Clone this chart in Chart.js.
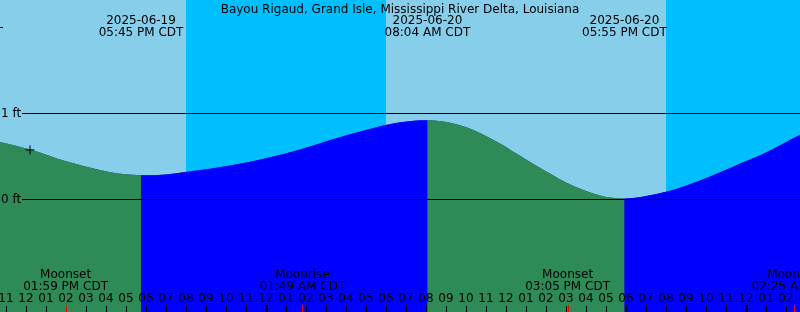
<!DOCTYPE html>
<html>
<head>
<meta charset="utf-8">
<script src="https://cdn.jsdelivr.net/npm/chart.js@4"></script>
<style>
  body { margin: 0; overflow: hidden; background: #fff; }
  canvas { display: block; }
</style>
</head>
<body>
<canvas id="tide" width="800" height="312"></canvas>
<script>
// hours counted from 2025-06-19 00:00 CDT
const title = "Bayou Rigaud, Grand Isle, Mississippi River Delta, Louisiana";

const tideHours = [10.7, 12.2, 14.05, 15.7, 16.6, 17.35, 17.75, 19.0, 20.05, 22.35, 24.05, 25.7, 27.35, 29.05, 30.7, 31.4, 32.07,
  33.0, 34.05, 35.7, 36.5, 37.35, 38.2, 39.05, 40.7, 41.2, 41.92, 43.0, 44.05, 45.7, 47.35, 49.05, 50.7];
const tideFeet = [0.666, 0.58, 0.44, 0.34, 0.30, 0.285, 0.28, 0.29, 0.32, 0.40, 0.48, 0.58, 0.70, 0.81, 0.895, 0.915, 0.92,
  0.90, 0.835, 0.65, 0.535, 0.415, 0.30, 0.19, 0.045, 0.022, 0.01, 0.04, 0.09, 0.22, 0.38, 0.55, 0.75];

const nowHour = 12.2;
const nowFeet = 0.575;

const extremeHours = [17.75, 32.07, 41.92];
const extremeDates = ["2025-06-19", "2025-06-20", "2025-06-20"];
const extremeTimes = ["05:45 PM CDT", "08:04 AM CDT", "05:55 PM CDT"];

const moonHours = [13.98, 25.82, 39.08, 50.42];
const moonNames = ["Moonset", "Moonrise", "Moonset", "Moonrise"];
const moonTimes = ["01:59 PM CDT", "01:49 AM CDT", "03:05 PM CDT", "02:25 AM CDT"];

const nightStarts = [20.0, 44.0];
const nightEnds = [30.0, 54.0];
const midnights = [24, 48];

const firstHour = 11;
const hourLabels = ["11", "12", "01", "02", "03", "04", "05", "06", "07", "08", "09", "10",
  "11", "12", "01", "02", "03", "04", "05", "06", "07", "08", "09", "10",
  "11", "12", "01", "02", "03", "04", "05", "06", "07", "08", "09", "10",
  "11", "12", "01", "02", "03"];
const footLabels = [0, 1, 2];

const FONT = "12px 'DejaVu Sans', sans-serif";
const DAY = "#87CEEB", NIGHT = "#00BFFF", FALL = "#2E8B57", RISE = "#0000FF";

const tidePoints = tideHours.map((h, i) => ({ x: h, y: tideFeet[i] }));

const tidePlugin = {
  id: "tideDecor",
  beforeDatasetsDraw(chart) {
    const { ctx, chartArea: a, scales: { x } } = chart;
    ctx.save();
    ctx.fillStyle = DAY;
    ctx.fillRect(a.left, a.top, a.right - a.left, a.bottom - a.top);
    ctx.fillStyle = NIGHT;
    nightStarts.forEach((s, i) => {
      const x0 = Math.round(x.getPixelForValue(s));
      const x1 = Math.round(x.getPixelForValue(nightEnds[i]));
      ctx.fillRect(x0, a.top, x1 - x0, a.bottom - a.top);
    });
    ctx.restore();
  },
  afterDatasetsDraw(chart) {
    const { ctx, chartArea: a, scales: { x, y } } = chart;
    ctx.save();
    ctx.font = FONT;
    ctx.fillStyle = "#000";
    ctx.strokeStyle = "#000";
    ctx.lineWidth = 1;

    // foot lines
    footLabels.forEach(f => {
      const py = Math.round(y.getPixelForValue(f)) + 0.5;
      ctx.beginPath();
      if (f === 2) {
        ctx.moveTo(0, py); ctx.lineTo(3, py);
      } else {
        ctx.moveTo(22, py); ctx.lineTo(a.right, py);
        ctx.textAlign = "left";
        ctx.textBaseline = "middle";
        ctx.fillText(f + " ft", 1, py);
      }
      ctx.stroke();
    });

    // title
    ctx.textAlign = "center";
    ctx.textBaseline = "alphabetic";
    ctx.fillText(title, 400, 13);

    // high / low labels
    extremeHours.forEach((h, i) => {
      const px = x.getPixelForValue(h);
      ctx.fillText(extremeDates[i], px, 24);
      ctx.fillText(extremeTimes[i], px, 36);
    });

    // moon events
    moonHours.forEach((h, i) => {
      const px = x.getPixelForValue(h);
      ctx.fillText(moonNames[i], px, 278);
      ctx.fillText(moonTimes[i], px, 290);
    });

    // hour ticks and labels
    hourLabels.forEach((lab, i) => {
      const px = Math.round(x.getPixelForValue(firstHour + i));
      ctx.fillText(lab, px, 302);
      ctx.fillRect(px, 306, 1, 6);
    });
    midnights.forEach(h => {
      const px = Math.round(x.getPixelForValue(h));
      ctx.fillRect(px - 1, 305, 3, 7);
    });
    ctx.fillStyle = "#FF0000";
    moonHours.forEach(h => {
      const px = Math.round(x.getPixelForValue(h));
      ctx.fillRect(px, 305, 1, 7);
    });
    ctx.restore();
  }
};

new Chart(document.getElementById("tide"), {
  type: "line",
  data: {
    datasets: [
      {
        type: "scatter",
        data: [{ x: nowHour, y: nowFeet }],
        pointStyle: "cross",
        pointRadius: 4.5,
        borderColor: "#000",
        borderWidth: 1
      },
      {
        // rising / falling colours
        data: tidePoints,
        borderWidth: 0,
        borderColor: "rgba(0,0,0,0)",
        pointRadius: 0,
        cubicInterpolationMode: "monotone",
        fill: "start",
        backgroundColor: FALL,
        segment: {
          backgroundColor: c => c.p1.parsed.y > c.p0.parsed.y ? RISE : FALL
        }
      },
      {
        // underlay so the joins between colours show no gap
        data: tidePoints,
        borderWidth: 0,
        borderColor: "rgba(0,0,0,0)",
        pointRadius: 0,
        cubicInterpolationMode: "monotone",
        fill: "start",
        backgroundColor: "#1745A0"
      }
    ]
  },
  options: {
    responsive: false,
    animation: false,
    devicePixelRatio: 1,
    layout: { padding: 0, autoPadding: false },
    scales: {
      x: { type: "linear", min: 10.7, max: 50.7, display: false },
      y: { type: "linear", min: -1.31, max: 2.318, display: false }
    },
    plugins: { legend: { display: false }, tooltip: { enabled: false } }
  },
  plugins: [tidePlugin]
});
</script>
</body>
</html>
